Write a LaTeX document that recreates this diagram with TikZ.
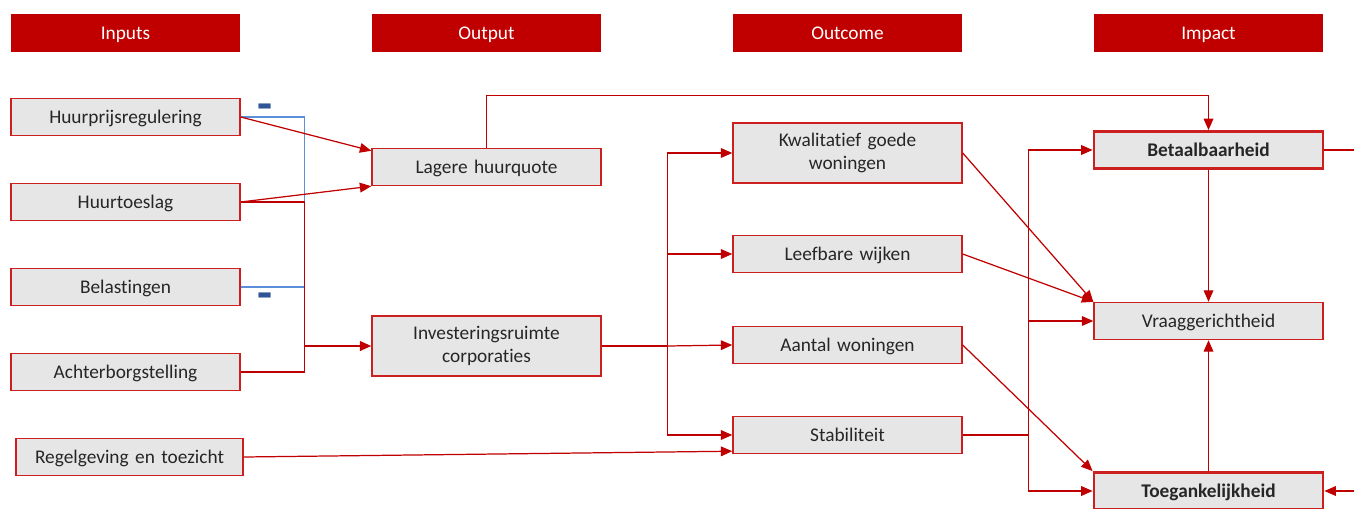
\documentclass[tikz,border=0pt]{standalone}
\usepackage{fontspec}
\setmainfont{Carlito}[Ligatures=NoCommon, WordSpace=0.75]
\usepackage{xcolor}
\usepackage{tikz}
\usetikzlibrary{arrows.meta}

\definecolor{darkred}{HTML}{C00000}
\definecolor{boxred}{HTML}{CC2020}
\definecolor{boxgray}{HTML}{E7E6E6}
\definecolor{linkblue}{HTML}{5B8FD9}
\definecolor{minusblue}{HTML}{2F5597}

\begin{document}
\begin{tikzpicture}[
        node distance=1.7cm,
        font=\fontsize{11}{13}\selectfont,
        header/.style={rectangle, fill=darkred, text=white, minimum width=4.58cm, minimum height=0.76cm, text height=1.9ex, text depth=0.35ex},
        block/.style={rectangle, draw=boxred, line width=0.8pt, fill=boxgray, text=black!85, text width=4.3cm, align=center, minimum width=4.58cm, minimum height=0.74cm, inner sep=2pt, text height=1.9ex, text depth=0.35ex},
        twoline/.style={block, minimum height=1.2cm, text height=, text depth=},
        keyblock/.style={block, line width=1.6pt, font=\fontsize{11}{13}\selectfont\bfseries},
        arrow/.style={draw=darkred, line width=0.7pt, -{Triangle[length=6.5pt,width=5.5pt]}},
        line/.style={draw=darkred, line width=0.7pt},
        blueline/.style={draw=linkblue, line width=0.6pt},
        minus/.style={text=minusblue, font=\fontsize{28}{28}\selectfont\bfseries, inner sep=0pt}
    ]
        \useasboundingbox (0,0) rectangle (27.08,-10.16);

        % Headers
        \node[header] (inputs) at (2.51,-0.66) {Inputs};
        \node[header, right of=inputs, node distance=7.22cm] (output) {Output};
        \node[header, right of=output, node distance=7.22cm] (outcome) {Outcome};
        \node[header, right of=outcome, node distance=7.22cm] (impact) {Impact};

        % Inputs
        \node[block, below of=inputs, node distance=1.68cm] (huurprijs) {Huurprijsregulering};
        \node[block, below of=huurprijs] (huurtoeslag) {Huurtoeslag};
        \node[block, below of=huurtoeslag] (belasting) {Belastingen};
        \node[block, below of=belasting] (achterborg) {Achterborgstelling};
        \node[block, below of=achterborg, xshift=0.08cm, minimum width=4.54cm] (regelgeving) {Regelgeving en toezicht};

        % Output
        \node[block, below of=output, node distance=2.68cm] (lagere) {Lagere huurquote};
        \node[twoline, below of=lagere, node distance=3.58cm] (invest) {Investeringsruimte\\corporaties};

        % Outcome
        \node[twoline, below of=outcome, node distance=2.4cm] (kwaliteit) {Kwalitatief goede\\woningen};
        \node[block, below of=kwaliteit, node distance=2.02cm] (leefbaar) {Leefbare wijken};
        \node[block, below of=leefbaar, node distance=1.82cm] (aantal) {Aantal woningen};
        \node[block, below of=aantal, node distance=1.8cm] (stabiel) {Stabiliteit};

        % Impact
        \node[keyblock, below of=impact, node distance=2.34cm] (betaal) {Betaalbaarheid};
        \node[block, below of=betaal, node distance=3.42cm] (vraag) {Vraaggerichtheid};
        \node[keyblock, below of=vraag, node distance=3.4cm] (toegang) {Toegankelijkheid};

        % Minus signs
        \node[minus] (minusA) at (5.3,-2.24) {-};
        \node[minus] (minusB) at (5.3,-6.02) {-};

        % Junctions
        \coordinate (bus) at ([xshift=-1.34cm]invest.west);
        \coordinate (hub) at ([xshift=1.32cm]invest.east);
        \coordinate (hubB) at ([xshift=1.32cm]stabiel.east);
        \coordinate (exitA) at ([xshift=0.6cm]betaal.east);
        \coordinate (entryB) at ([xshift=0.6cm]toegang.east);

        % Inputs to output
        \draw[blueline] (huurprijs.east) -| (bus);
        \draw[blueline] (belasting.east) -| (bus);
        \draw[line] (huurtoeslag.east) -| (bus);
        \draw[line] (achterborg.east) -| (bus);
        \draw[arrow, line width=1.2pt] (bus) -- (invest.west);
        \draw[arrow] (huurprijs.east) -- ([yshift=-0.06cm]lagere.north west);
        \draw[arrow] (huurtoeslag.east) -- (lagere.south west);
        \draw[arrow] (lagere.north) -- ++(0,1.04) -| (betaal.north);
        \draw[arrow] (regelgeving.east) -- ([yshift=0.06cm]stabiel.south west);

        % Output to outcome
        \draw[line, line width=1.6pt] (invest.east) -- (hub);
        \draw[arrow] (hub) |- (kwaliteit.west);
        \draw[arrow] (hub) |- (leefbaar.west);
        \draw[arrow] (hub) -- (aantal.west);
        \draw[arrow] (hub) |- (stabiel.west);

        % Outcome to impact
        \draw[arrow] (kwaliteit.east) -- (vraag.north west);
        \draw[arrow] (leefbaar.east) -- (vraag.north west);
        \draw[arrow] (aantal.east) -- (toegang.north west);
        \draw[line] (stabiel.east) -- (hubB);
        \draw[arrow] (hubB) |- (betaal.west);
        \draw[arrow] (hubB) |- (vraag.west);
        \draw[arrow] (hubB) |- (toegang.west);
        \draw[arrow] (betaal.south) -- (vraag.north);
        \draw[arrow] (toegang.north) -- (vraag.south);
        \draw[line] (betaal.east) -- (exitA);
        \draw[arrow] (entryB) -- (toegang.east);
\end{tikzpicture}
\end{document}
